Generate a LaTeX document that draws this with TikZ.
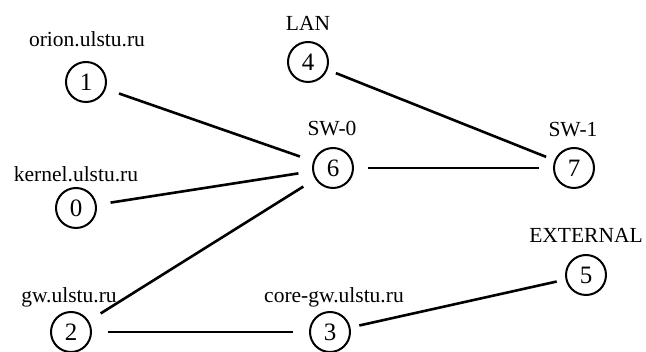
\documentclass[tikz,border=0pt]{standalone}
\usepackage{fontspec}
\setmainfont{Liberation Serif}
\begin{document}
\begin{tikzpicture}[x=1pt,y=-1pt,
  vert/.style={circle,draw=black,line width=2pt,minimum size=40pt,inner sep=0pt,font=\fontsize{25}{25}\selectfont},
  lab/.style={inner sep=0pt,font=\fontsize{21.5}{22}\selectfont},
  link/.style={line width=2.6pt,shorten <=#1,shorten >=#1},
  link/.default=12pt]
\useasboundingbox (0,0) rectangle (646,352);
\node[vert] (n1) at (86,82) {1};
\node[vert] (n4) at (308,62) {4};
\node[vert] (n6) at (333,168) {6};
\node[vert] (n7) at (574,168) {7};
\node[vert] (n0) at (76,208) {0};
\node[vert] (n5) at (586,275) {5};
\node[vert] (n2) at (71,332) {2};
\node[vert] (n3) at (330,332) {3};
\node[lab] (l1) at (87,39) {orion.ulstu.ru};
\node[lab] (l4) at (308,23) {LAN};
\node[lab] (l6) at (332,129) {SW-0};
\node[lab] (l7) at (573,130) {SW-1};
\node[lab] (l0) at (76,174) {kernel.ulstu.ru};
\node[lab] (l5) at (586,235) {EXTERNAL};
\node[lab] (l2) at (69,297) {gw.ulstu.ru};
\node[lab] (l3) at (334,297) {core-gw.ulstu.ru};
\draw[link=14pt] (n1) -- (n6);
\draw[link=14pt] (n0) -- (n6);
\draw[link=14pt] (n2) -- (n6);
\draw[link=14pt] (n6) -- (n7);
\draw[link=9pt] (n4) -- (n7);
\draw[link=16pt] (n2) -- (n3);
\draw[link=9pt] (n3) -- (n5);
\end{tikzpicture}
\end{document}
